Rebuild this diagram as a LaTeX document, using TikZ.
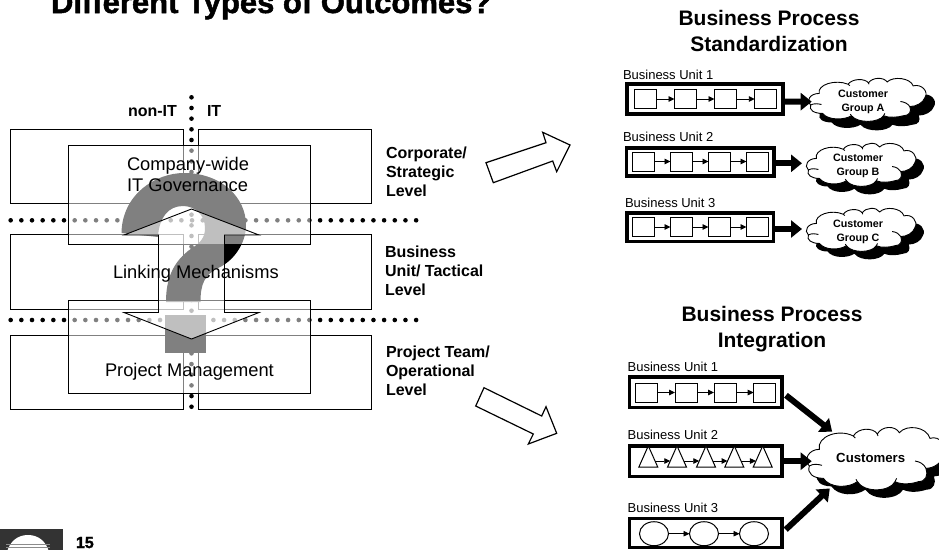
\documentclass[tikz,border=0pt]{standalone}
\usepackage{fontspec}
\setmainfont{Liberation Sans}
\newfontfamily\heavyfont{Liberation Sans}[BoldFeatures={FakeBold=1.6}]
\usetikzlibrary{arrows.meta,shapes.geometric}
\newcommand{\fs}[2]{\fontsize{#1}{#2}\selectfont}
\tikzset{
  x=1pt,y=-1pt,
  txt/.style={inner sep=0pt,outer sep=0pt,anchor=base west,align=left},
  lvl/.style={txt,font=\fs{16}{19}\bfseries},
  inner/.style={txt,font=\fs{18.3}{21.7}},
  unit/.style={txt,font=\fs{13}{15}},
  head/.style={inner sep=0pt,outer sep=0pt,anchor=base,align=center,font=\fs{21}{25.6}\bfseries},
  block/.style={draw,line width=3.6pt,rectangle,inner sep=0pt,outer sep=0pt},
  sq/.style={draw,line width=1pt,fill=white,rectangle,inner sep=0pt,outer sep=0pt,minimum width=22pt,minimum height=19pt},
  tri/.style={draw,line width=1pt,fill=white,isosceles triangle,isosceles triangle apex angle=48,shape border rotate=90,inner sep=0pt,outer sep=0pt,minimum height=21pt,minimum width=19pt},
  circ/.style={draw,line width=1pt,fill=white,ellipse,inner sep=0pt,outer sep=0pt,minimum width=29pt,minimum height=24pt},
  flow/.style={line width=.9pt,-{Triangle[length=6pt,width=5.5pt]}},
  fat/.style={line width=6pt,-{Triangle[length=11pt,width=17pt]}},
  blob/.style={rectangle,inner sep=0pt,outer sep=0pt,align=center,font=\fs{10.7}{13.5}\bfseries},
  veil/.style={draw,line width=.9pt,fill=white,fill opacity=.5,draw opacity=1},
  hollow/.style={draw,line width=1.2pt,fill=white,line join=miter},
}
% cloud outline, in units of a 417 x 300 drawing
\newcommand{\cloudoutline}{(28,168) .. controls (10,150) and (25,118) .. (58,118)
  .. controls (50,80) and (115,55) .. (160,78)
  .. controls (175,52) and (220,52) .. (232,72)
  .. controls (245,48) and (285,45) .. (298,68)
  .. controls (320,42) and (380,50) .. (390,85)
  .. controls (420,75) and (445,110) .. (432,135)
  .. controls (425,160) and (400,175) .. (378,175)
  .. controls (385,195) and (378,215) .. (355,215)
  .. controls (335,222) and (305,225) .. (285,215)
  .. controls (270,245) and (195,250) .. (172,215)
  .. controls (145,235) and (90,235) .. (70,205)
  .. controls (40,205) and (20,190) .. (28,168) -- cycle}
% #1 x0, #2 y0, #3 xscale, #4 yscale, #5 shadow offset
\newcommand{\cloudat}[5]{%
  \begin{scope}[shift={(#1+#5,#2+#5)},xscale=#3,yscale=#4]
    \fill \cloudoutline;
  \end{scope}
  \begin{scope}[shift={(#1,#2)},xscale=#3,yscale=#4]
    \draw[line width=.9pt,fill=white] \cloudoutline;
    \draw[line width=.9pt] (28,168) .. controls (40,160) and (55,163) .. (66,166);
    \draw[line width=.9pt] (345,153) .. controls (360,155) and (372,163) .. (378,175);
    \draw[line width=.9pt] (160,78) -- (166,84);
    \draw[line width=.9pt] (232,72) -- (234,78);
    \draw[line width=.9pt] (285,215) -- (290,205);
    \draw[line width=.9pt] (172,215) -- (168,208);
  \end{scope}}
\begin{document}
\begin{tikzpicture}
\useasboundingbox (0,0) rectangle (939,550);
\clip (0,0) rectangle (939,550);
% title
\node[txt,font=\heavyfont\fs{31}{36}\bfseries] (title) at (51,13) {Different Types of Outcomes?};
% outer boxes
\foreach \t/\b in {129/203,234.5/309,335/409.5}{
  \draw[line width=.9pt] (10.5,\t) rectangle (183.5,\b);
  \draw[line width=.9pt] (198.5,\t) rectangle (371,\b);
}
% dotted lines
\foreach \k in {1,...,39}{
  \fill (10.67*\k,220.3) circle (2.3pt);
  \fill (10.67*\k,320) circle (2.3pt);
}
\foreach \k in {0,...,29}{\fill (191.5,97.3+10.67*\k) circle (2.3pt);}
% question mark
\fill (121.5,233) .. controls (122,195) and (155,173) .. (184,173)
  .. controls (222,173) and (246,198) .. (246,225)
  .. controls (246,245) and (232,262) .. (218,268)
  .. controls (205,275) and (200.5,283) .. (200.5,302)
  -- (166,302) .. controls (166,280) and (172,262) .. (192,248)
  .. controls (200,243) and (205,238) .. (205,228)
  .. controls (205,215) and (195,206) .. (183,206)
  .. controls (168,206) and (159,218) .. (158,237) -- cycle;
\fill (165,315) rectangle (205.7,353);
% translucent boxes
\draw[veil] (68.5,145) rectangle (310.5,244.5);
\draw[veil] (68.5,300.5) rectangle (310.5,393.5);
% double arrow
\draw[veil,line join=miter] (191.5,209) -- (259,235) -- (224.5,235) -- (224.5,312.5) -- (259,312.5)
  -- (191.5,339) -- (124,312.5) -- (158.5,312.5) -- (158.5,235) -- (124,235) -- cycle;
% inner texts
\node[inner] (gov) at (127,191.7) {Company-wide\\IT Governance};
\node[inner] (link) at (113,278.7) {Linking Mechanisms};
\node[inner] (pm) at (105,376) {Project Management};
% axis labels
\node[lvl] (nonit) at (128,116.7) {non-IT};
\node[lvl] (it) at (207,116.7) {IT};
\node[lvl] (l1) at (386,196) {Corporate/\\Strategic\\Level};
\node[lvl] (l2) at (385,295) {Business\\Unit/ Tactical\\Level};
\node[lvl] (l3) at (386,395.7) {Project Team/\\Operational\\Level};
% hollow arrows
\draw[hollow] (486,162.7) -- (546,142.7) -- (542.7,132.3) -- (570,145) -- (556.7,171.7) -- (552.7,161) -- (493.3,182.7) -- cycle;
\draw[hollow] (484,387.7) -- (541.7,416) -- (546,406.7) -- (556.7,433.3) -- (528.3,444) -- (533.3,434) -- (475.7,406) -- cycle;
% logo
\fill[black!80] (0,529) rectangle (63,550);
\fill[white] (7,552) .. controls (10,541) and (18,535) .. (28,535) .. controls (38,535) and (46,541) .. (49,552) -- cycle;
\fill[black!45] (6,543.5) rectangle (50,544.5);
\fill[black!45] (6,546.5) rectangle (50,547.5);
\node[txt,font=\heavyfont\fs{16}{18}\bfseries] (page) at (76,548) {15};
% ---------- Standardization
\node[head] (h1) at (769,51) {Business Process\\Standardization};
\node[unit] (u1) at (623,79) {Business Unit 1};
\node[unit] (u2) at (623,141) {Business Unit 2};
\node[unit] (u3) at (625,207) {Business Unit 3};
\node[block,minimum width=156pt,minimum height=29.7pt] (a) at (705,98.85) {};
\node[block,minimum width=147.4pt,minimum height=28pt] (b) at (700,161.7) {};
\node[block,minimum width=146.7pt,minimum height=28.6pt] (c) at (700.3,227) {};
\foreach \n/\x in {1/645.2,2/685.5,3/725.5,4/765.8}{\node[sq] (a\n) at (\x,99) {};}
\foreach \n/\x in {1/643.8,2/681.5,3/719.5,4/757.5}{\node[sq] (b\n) at (\x,161.5) {};}
\foreach \n/\x in {1/643.8,2/681.5,3/719.5,4/757.5}{\node[sq] (c\n) at (\x,227) {};}
\foreach \r in {a,b,c}{
  \draw[flow] (\r1) -- (\r2);
  \draw[flow] (\r2) -- (\r3);
  \draw[flow] (\r3) -- (\r4);
}
\cloudat{802.8}{66.3}{.283}{.23}{9}
\cloudat{801}{131.3}{.264}{.23}{8}
\cloudat{801}{196.3}{.264}{.23}{8}
\node[blob,minimum width=112pt,minimum height=30pt] (ca) at (863,102) {Customer\\Group A};
\node[blob,minimum width=106pt,minimum height=30pt] (cb) at (858,166) {Customer\\Group B};
\node[blob,minimum width=106pt,minimum height=30pt] (cc) at (858,232) {Customer\\Group C};
\draw[fat] ([xshift=1.8pt,yshift=-2.8pt]a.east) -- ([xshift=4.7pt,yshift=.35pt]ca.west);
\draw[fat] ([xshift=1.8pt,yshift=-1.6pt]b.east) -- ([xshift=-3pt,yshift=2.7pt]cb.west);
\draw[fat] ([xshift=1.8pt,yshift=-2pt]c.east) -- ([xshift=-3pt,yshift=3pt]cc.west);
% ---------- Integration
\node[head] (h2) at (772,347.3) {Business Process\\Integration};
\node[unit] (v1) at (627.7,371.7) {Business Unit 1};
\node[unit] (v2) at (627.7,439) {Business Unit 2};
\node[unit] (v3) at (627.7,512.7) {Business Unit 3};
\node[block,minimum width=152.7pt,minimum height=30.3pt] (p) at (705.7,392.2) {};
\node[block,minimum width=152.7pt,minimum height=30.3pt] (q) at (705.7,461.2) {};
\node[block,minimum width=152.7pt,minimum height=29pt] (r) at (705.7,533) {};
\foreach \n/\x in {1/646.7,2/686,3/725,4/764.7}{\node[sq] (p\n) at (\x,392.5) {};}
\foreach \n/\x in {1/648.3,2/677,3/706,4/734.3,5/762.7}{\node[tri] (q\n) at (\x,461) {};}
\foreach \n/\x in {1/654,2/704,3/754}{\node[circ] (r\n) at (\x,533.7) {};}
\draw[flow] (p1) -- (p2); \draw[flow] (p2) -- (p3); \draw[flow] (p3) -- (p4);
\draw[flow] (q1) -- (q2); \draw[flow] (q2) -- (q3); \draw[flow] (q3) -- (q4); \draw[flow] (q4) -- (q5);
\draw[flow] (r1) -- (r2); \draw[flow] (r2) -- (r3);
\cloudat{800}{410}{.3333}{.3333}{8}
\node[blob,minimum width=125.4pt,minimum height=52pt,font=\fs{13.2}{16}\bfseries] (cust) at (870.7,457.7) {Customers};
\draw[fat,shorten <=5pt] (p.east) -- (cust.146);
\draw[fat] ([xshift=1.8pt]q.east) -- ([xshift=3.7pt,yshift=-3.5pt]cust.west);
\draw[fat,shorten <=5pt,shorten >=7pt] (r.east) -- (cust.216);
\end{tikzpicture}
\end{document}
